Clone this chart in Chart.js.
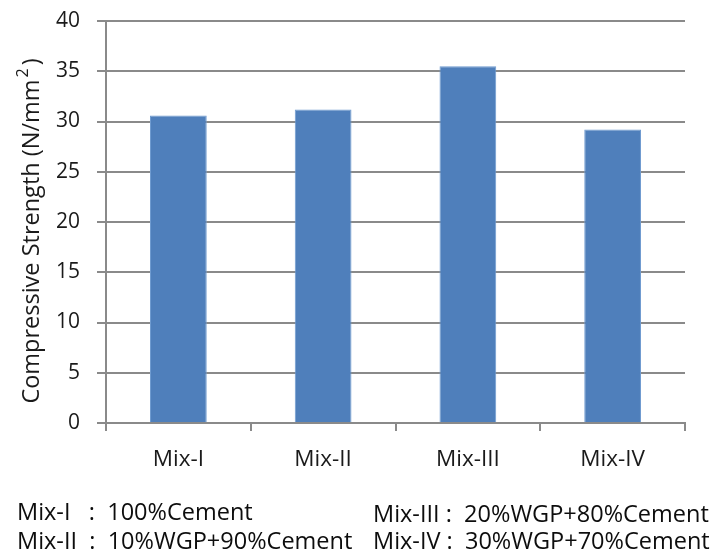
<!DOCTYPE html>
<html>
<head>
<meta charset="utf-8">
<script src="https://cdn.jsdelivr.net/npm/chart.js@4/dist/chart.umd.min.js"></script>
<style>
  html, body { margin: 0; padding: 0; background: #fff; }
  #wrap { position: relative; width: 714px; height: 557px; }
  #c { position: absolute; left: 0; top: 0; }
  .note { position: absolute; font-family: "Open Sans", sans-serif; font-size: 23.5px; color: #0d0d0d; white-space: pre; line-height: 1; }
</style>
</head>
<body>
<div id="wrap">
  <canvas id="c" width="714" height="557"></canvas>
  <div class="note" style="left:17px; top:500px;">Mix-I   :  100%Cement</div>
  <div class="note" style="left:17px; top:529px;">Mix-II  :  10%WGP+90%Cement</div>
  <div class="note" style="left:373px; top:502px;">Mix-III :  20%WGP+80%Cement</div>
  <div class="note" style="left:373px; top:529px;">Mix-IV :  30%WGP+70%Cement</div>
</div>
<script>
// Compressive strength of each mix (N/mm²)
const mixes = ["Mix-I", "Mix-II", "Mix-III", "Mix-IV"];
const strength = [30.6, 31.2, 35.5, 29.2];
const yTicks = [0, 5, 10, 15, 20, 25, 30, 35, 40];

const FONT = '"Open Sans", sans-serif';
const TEXT = '#1a1a1a';
const GRID = '#8a8a8a';

// Rotated axis title with a raised "2" in the unit
const yTitlePlugin = {
  id: 'yTitle',
  afterDraw(chart) {
    const ctx = chart.ctx;
    const area = chart.chartArea;
    const main = 'Compressive Strength (N/mm';
    const sup = '2';
    const tail = ')';
    ctx.save();
    ctx.fillStyle = TEXT;
    ctx.font = '23.5px ' + FONT;
    const wMain = ctx.measureText(main).width;
    const wTail = ctx.measureText(tail).width;
    ctx.font = '16px ' + FONT;
    const wSup = ctx.measureText(sup).width + 3;
    const total = wMain + wSup + wTail;
    const cx = 32;
    const cy = (area.top + area.bottom) / 2 + 10;
    ctx.translate(cx, cy);
    ctx.rotate(-Math.PI / 2);
    ctx.textBaseline = 'middle';
    ctx.textAlign = 'left';
    let x = -total / 2;
    ctx.font = '23.5px ' + FONT;
    ctx.fillText(main, x, 0);
    x += wMain + 2;
    ctx.font = '16px ' + FONT;
    ctx.fillText(sup, x, -9);
    x += wSup;
    ctx.font = '23.5px ' + FONT;
    ctx.fillText(tail, x, 0);
    ctx.restore();
  }
};

new Chart(document.getElementById('c'), {
  type: 'bar',
  data: {
    labels: mixes,
    datasets: [{
      data: strength,
      backgroundColor: '#4f7fbb',
      borderColor: '#6f9bd0',
      borderWidth: 1,
      categoryPercentage: 0.8,
      barPercentage: 0.49
    }]
  },
  options: {
    responsive: false,
    animation: false,
    devicePixelRatio: 1,
    layout: { padding: { top: 21, right: 29, left: 0, bottom: 0 } },
    plugins: { legend: { display: false }, tooltip: { enabled: false } },
    scales: {
      x: {
        afterFit(s) { s.height = 134; s.paddingLeft = 0; s.paddingRight = 0; },
        grid: {
          display: true,
          drawOnChartArea: false,
          drawTicks: true,
          tickLength: 8,
          color: GRID,
          lineWidth: 2,
          offset: true
        },
        border: { display: true, color: GRID, width: 2 },
        ticks: {
          color: TEXT,
          font: { family: FONT, size: 22.5 },
          padding: 15
        }
      },
      y: {
        min: 0,
        max: 40,
        afterFit(s) { s.width = 106; s.paddingTop = 0; s.paddingBottom = 0; },
        afterBuildTicks(s) { s.ticks = yTicks.map(v => ({ value: v })); },
        grid: {
          color: GRID,
          lineWidth: 2,
          tickLength: 9
        },
        border: { display: true, color: GRID, width: 2 },
        ticks: {
          color: TEXT,
          font: { family: FONT, size: 21 },
          padding: 17
        }
      }
    }
  },
  plugins: [yTitlePlugin]
});
</script>
</body>
</html>
